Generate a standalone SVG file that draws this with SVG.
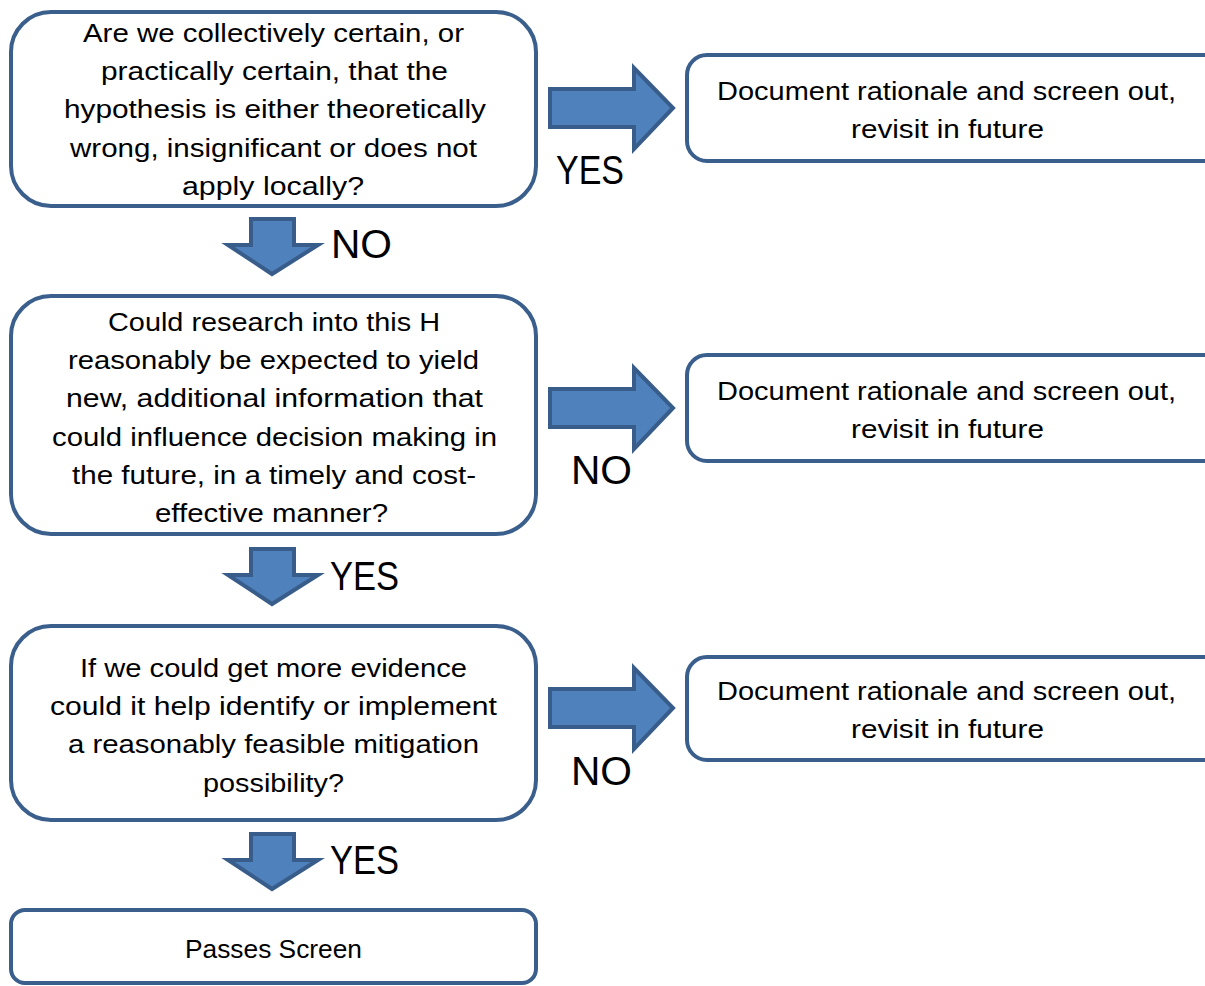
<svg xmlns="http://www.w3.org/2000/svg" width="1205" height="986" viewBox="0 0 1205 986">
<style>
.box{fill:#fff;stroke:#3B5F8C;stroke-width:4}
.arr{fill:#4F81BD;stroke:#385D8A;stroke-width:4;stroke-linejoin:miter}
.t{font-family:"Liberation Sans",Arial,sans-serif;font-size:26px;fill:#000;text-anchor:middle}
.lbl{font-family:"Liberation Sans",Arial,sans-serif;font-size:40px;fill:#000}
</style>
<rect width="1205" height="986" fill="#fff"/>
<g id="connectors">
<polygon class="arr" points="550,89 634,89 634,68 673,108 634,149 634,127 550,127"/>
<polygon class="arr" points="550,389 634,389 634,368 673,408 634,449 634,427 550,427"/>
<polygon class="arr" points="550,689 634,689 634,668 673,708 634,749 634,727 550,727"/>
<polygon class="arr" points="251,219 294,219 294,245 318,245 272,274 228,245 251,245"/>
<polygon class="arr" points="251,549 294,549 294,575 318,575 272,604 228,575 251,575"/>
<polygon class="arr" points="251,834 294,834 294,860 318,860 272,889 228,860 251,860"/>
<text class="lbl" x="556" y="184" textLength="68" lengthAdjust="spacingAndGlyphs">YES</text>
<text class="lbl" x="331" y="258" textLength="61" lengthAdjust="spacingAndGlyphs">NO</text>
<text class="lbl" x="571" y="484" textLength="61" lengthAdjust="spacingAndGlyphs">NO</text>
<text class="lbl" x="330" y="590" textLength="69" lengthAdjust="spacingAndGlyphs">YES</text>
<text class="lbl" x="571" y="785" textLength="61" lengthAdjust="spacingAndGlyphs">NO</text>
<text class="lbl" x="330" y="874" textLength="69" lengthAdjust="spacingAndGlyphs">YES</text>
</g>
<g id="q1">
<rect class="box" x="11" y="12" width="525" height="194" rx="40"/>
<text class="t" x="273.5" y="42" textLength="381" lengthAdjust="spacingAndGlyphs">Are we collectively certain, or</text>
<text class="t" x="274.5" y="80" textLength="347" lengthAdjust="spacingAndGlyphs">practically certain, that the</text>
<text class="t" x="275" y="118" textLength="422" lengthAdjust="spacingAndGlyphs">hypothesis is either theoretically</text>
<text class="t" x="273.5" y="157" textLength="407" lengthAdjust="spacingAndGlyphs">wrong, insignificant or does not</text>
<text class="t" x="273" y="195" textLength="182" lengthAdjust="spacingAndGlyphs">apply  locally?</text>
</g>
<g id="r1">
<rect class="box" x="687" y="55" width="540" height="106" rx="20"/>
<text class="t" x="946.5" y="100" textLength="459" lengthAdjust="spacingAndGlyphs">Document rationale and screen out,</text>
<text class="t" x="947.5" y="138" textLength="193" lengthAdjust="spacingAndGlyphs">revisit in future</text>
</g>
<g id="q2">
<rect class="box" x="11" y="296" width="525" height="238" rx="40"/>
<text class="t" x="274" y="331" textLength="332" lengthAdjust="spacingAndGlyphs">Could research into this H</text>
<text class="t" x="273.5" y="369" textLength="411" lengthAdjust="spacingAndGlyphs">reasonably be expected to yield</text>
<text class="t" x="274.5" y="407" textLength="417" lengthAdjust="spacingAndGlyphs">new, additional information that</text>
<text class="t" x="274.5" y="446" textLength="445" lengthAdjust="spacingAndGlyphs">could influence decision making in</text>
<text class="t" x="274" y="484" textLength="404" lengthAdjust="spacingAndGlyphs">the future, in a timely and cost-</text>
<text class="t" x="271.5" y="522" textLength="233" lengthAdjust="spacingAndGlyphs">effective manner?</text>
</g>
<g id="r2">
<rect class="box" x="687" y="355" width="540" height="106" rx="20"/>
<text class="t" x="946.5" y="400" textLength="459" lengthAdjust="spacingAndGlyphs">Document rationale and screen out,</text>
<text class="t" x="947.5" y="438" textLength="193" lengthAdjust="spacingAndGlyphs">revisit in future</text>
</g>
<g id="q3">
<rect class="box" x="11" y="626" width="525" height="194" rx="40"/>
<text class="t" x="273.5" y="677" textLength="387" lengthAdjust="spacingAndGlyphs">If we could get more evidence</text>
<text class="t" x="273.5" y="715" textLength="447" lengthAdjust="spacingAndGlyphs">could it help identify or implement</text>
<text class="t" x="273.5" y="753" textLength="411" lengthAdjust="spacingAndGlyphs">a reasonably feasible mitigation</text>
<text class="t" x="273.5" y="792" textLength="141" lengthAdjust="spacingAndGlyphs">possibility?</text>
</g>
<g id="r3">
<rect class="box" x="687" y="657" width="540" height="103" rx="20"/>
<text class="t" x="946.5" y="700" textLength="459" lengthAdjust="spacingAndGlyphs">Document rationale and screen out,</text>
<text class="t" x="947.5" y="738" textLength="193" lengthAdjust="spacingAndGlyphs">revisit in future</text>
</g>
<g id="pass">
<rect class="box" x="11" y="910" width="525" height="73" rx="14"/>
<text class="t" x="273.5" y="958" textLength="177" lengthAdjust="spacingAndGlyphs">Passes Screen</text>
</g>
</svg>
